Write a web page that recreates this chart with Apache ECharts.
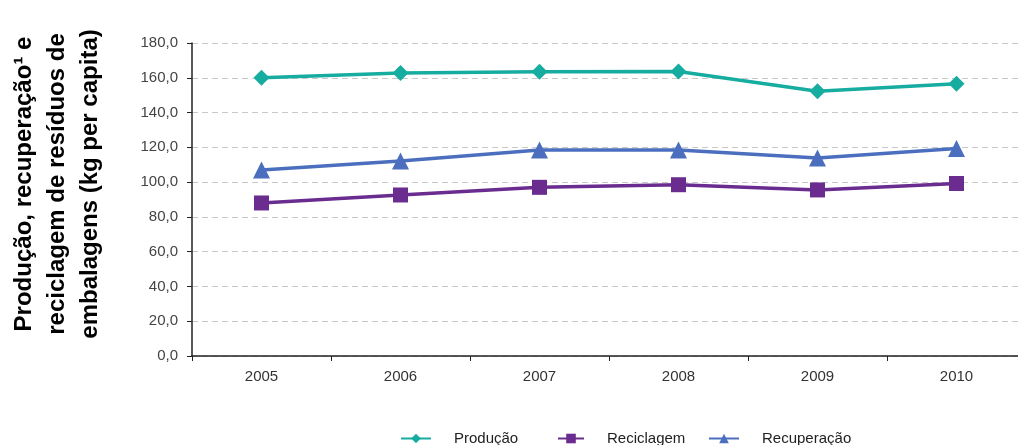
<!DOCTYPE html>
<html>
<head>
<meta charset="utf-8">
<script src="https://cdn.jsdelivr.net/npm/echarts@6/dist/echarts.min.js"></script>
<style>
  html, body { margin: 0; padding: 0; background: #fff; }
  #chart { width: 1018px; height: 445px; }
</style>
</head>
<body>
<div id="chart"></div>
<script>
// Packaging waste per capita (kg), 2005–2010
const years = ['2005', '2006', '2007', '2008', '2009', '2010'];
const producao = [160.0, 162.8, 163.5, 163.6, 152.2, 156.5];
const reciclagem = [88.0, 92.6, 97.0, 98.5, 95.5, 99.2];
const recuperacao = [107.0, 112.2, 118.5, 118.5, 113.8, 119.3];
const yTicks = { min: 0, max: 180, interval: 20 };
const seriesNames = ['Produção', 'Reciclagem', 'Recuperação'];

const FONT = 'Liberation Sans, Arial, sans-serif';
const chart = echarts.init(document.getElementById('chart'), null, { renderer: 'canvas' });

function lineSeries(name, data, color, symbol, size) {
  return {
    name: name,
    type: 'line',
    data: data,
    symbol: symbol,
    symbolSize: size,
    lineStyle: { color: color, width: 3.5 },
    itemStyle: { color: color },
    emphasis: { disabled: true },
    animation: false
  };
}

// one legend block per series so each entry sits in its own slot
function legendFor(name, left, iconWidth) {
  return {
    data: [name],
    left: left,
    top: 431,
    padding: 0,
    itemWidth: iconWidth,
    itemHeight: 12,
    itemGap: 0,
    textStyle: { color: '#222', fontFamily: FONT, fontSize: 15, padding: [6, 0, 0, 18] }
  };
}

chart.setOption({
  animation: false,
  backgroundColor: '#ffffff',
  grid: {
    left: 192, top: 43, width: 834, bottom: 89,
    containLabel: false,
    outerBoundsMode: 'none'
  },
  xAxis: {
    type: 'category',
    data: years,
    boundaryGap: true,
    axisLine: { lineStyle: { color: '#222', width: 1.5 } },
    axisTick: { show: true, length: 5, lineStyle: { color: '#222' } },
    axisLabel: { color: '#333', fontFamily: FONT, fontSize: 15, margin: 13 },
    splitLine: { show: false }
  },
  yAxis: {
    type: 'value',
    min: yTicks.min,
    max: yTicks.max,
    interval: yTicks.interval,
    axisLine: { show: true, lineStyle: { color: '#222', width: 1.5 } },
    axisTick: { show: true, length: 5, lineStyle: { color: '#222' } },
    axisLabel: {
      color: '#444',
      fontFamily: FONT,
      fontSize: 15,
      margin: 14,
      formatter: v => v.toFixed(1).replace('.', ',')
    },
    splitLine: { show: true, lineStyle: { color: '#c8c8c8', type: [6, 4], width: 1 } }
  },
  legend: [
    legendFor(seriesNames[0], 400, 30),
    legendFor(seriesNames[1], 557, 26),
    legendFor(seriesNames[2], 708, 30)
  ],
  series: [
    lineSeries(seriesNames[0], producao, '#17aca0', 'diamond', 16),
    lineSeries(seriesNames[1], reciclagem, '#6a2d8f', 'rect', 15),
    lineSeries(seriesNames[2], recuperacao, '#4b6fbe', 'triangle', 17)
  ],
  graphic: [{
    type: 'text',
    x: 57,
    y: 184,
    rotation: Math.PI / 2,
    style: {
      text: 'Produção, recuperação¹ e\nreciclagem de resíduos de\nembalagens (kg per capita)',
      align: 'center',
      verticalAlign: 'middle',
      fontFamily: FONT,
      fontSize: 24,
      fontWeight: 'bold',
      lineHeight: 33,
      fill: '#000'
    }
  }]
});
</script>
</body>
</html>
